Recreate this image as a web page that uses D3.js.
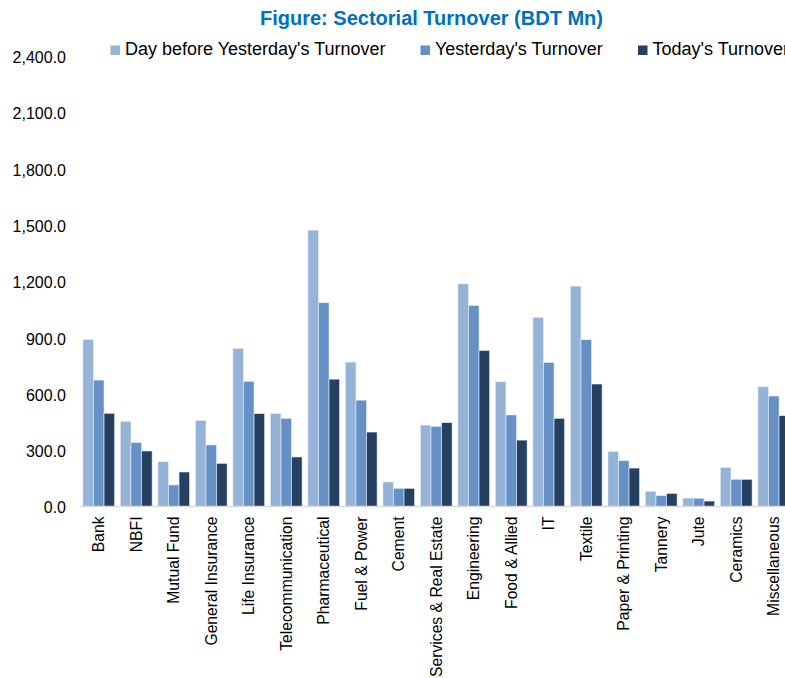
<!DOCTYPE html>
<html>
<head>
<meta charset="utf-8">
<script src="https://cdn.jsdelivr.net/npm/d3@7"></script>
<style>
  body { margin: 0; background: #fff; }
  svg { display: block; font-family: "Liberation Sans", Arial, sans-serif; }
</style>
</head>
<body>
<svg id="chart" width="785" height="678"></svg>
<script>
// sector names along the x axis
var sectors = ["Bank", "NBFI", "Mutual Fund", "General Insurance", "Life Insurance",
  "Telecommunication", "Pharmaceutical", "Fuel & Power", "Cement", "Services & Real Estate",
  "Engineering", "Food & Allied", "IT", "Textile", "Paper & Printing", "Tannery", "Jute",
  "Ceramics", "Miscellaneous"];

// turnover in BDT Mn
var dayBefore = [890, 454, 239, 459, 843, 495, 1473, 770, 131, 434, 1187, 665, 1008, 1175, 294, 81, 45, 207, 638];
var yesterday = [674, 340, 115, 328, 667, 470, 1086, 567, 97, 427, 1072, 488, 768, 889, 244, 58, 44, 145, 589];
var today = [497, 296, 184, 230, 495, 264, 679, 397, 97, 447, 832, 354, 470, 653, 205, 70, 29, 145, 484];

var seriesNames = ["Day before Yesterday's Turnover", "Yesterday's Turnover", "Today's Turnover"];
var yTicks = [0, 300, 600, 900, 1200, 1500, 1800, 2100, 2400];

var colors = ["#95b3d7", "#6591c6", "#254061"];
var seriesValues = [dayBefore, yesterday, today];

var svg = d3.select("#chart");

var x = d3.scaleBand()
  .domain(sectors)
  .range([80, 80 + 19 * 37.5])
  .paddingInner(0.155)
  .paddingOuter(0.0775);

var xs = d3.scaleBand()
  .domain(d3.range(3))
  .range([0, x.bandwidth()]);

var y = d3.scaleLinear()
  .domain([0, 2400])
  .range([506.5, 56.3]);

// title
svg.append("text")
  .attr("x", 431.5)
  .attr("y", 25)
  .attr("text-anchor", "middle")
  .attr("font-size", 20)
  .attr("font-weight", "bold")
  .attr("fill", "#0070c0")
  .text("Figure: Sectorial Turnover (BDT Mn)");

// legend
var legendX = [110.5, 420.5, 638];
var legend = svg.selectAll(".legend")
  .data(seriesNames)
  .enter().append("g")
    .attr("class", "legend")
    .attr("transform", function(d, i) { return "translate(" + legendX[i] + ",45.5)"; });
legend.append("rect")
  .attr("width", 9.5)
  .attr("height", 9.5)
  .attr("fill", function(d, i) { return colors[i]; });
legend.append("text")
  .attr("x", 14.5)
  .attr("y", 9.5)
  .attr("font-size", 18)
  .attr("fill", "#000")
  .text(function(d) { return d; });

// y axis (labels only)
var yAxis = svg.append("g")
  .attr("transform", "translate(66,0)")
  .call(d3.axisLeft(y).tickValues(yTicks).tickFormat(d3.format(",.1f")).tickSize(0).tickPadding(0));
yAxis.select(".domain").remove();
yAxis.selectAll("text")
  .attr("font-size", 16)
  .attr("fill", "#000")
  .attr("dy", "0.4em")
  .attr("font-family", "'Liberation Sans', Arial, sans-serif");

// bars
var groups = svg.selectAll(".grp")
  .data(sectors)
  .enter().append("g")
    .attr("class", "grp")
    .attr("transform", function(d) { return "translate(" + x(d) + ",0)"; });

groups.selectAll("rect")
  .data(function(d, i) { return seriesValues.map(function(s, k) { return { k: k, v: s[i] }; }); })
  .enter().append("rect")
    .attr("x", function(d) { return xs(d.k); })
    .attr("y", function(d) { return y(d.v); })
    .attr("width", xs.bandwidth())
    .attr("height", function(d) { return y(0) - y(d.v); })
    .attr("fill", function(d) { return colors[d.k]; })
    .attr("stroke", "#e6edf6")
    .attr("stroke-width", 0.6);

// x axis
var xAxis = svg.append("g")
  .attr("transform", "translate(0," + y(0) + ")")
  .call(d3.axisBottom(x).tickSize(0).tickPadding(0));
xAxis.select(".domain")
  .attr("stroke", "#d9d9d9")
  .attr("stroke-width", 1.5)
  .attr("d", "M80,0H785");
xAxis.selectAll("text")
  .attr("font-size", 15.7)
  .attr("fill", "#000")
  .attr("font-family", "'Liberation Sans', Arial, sans-serif")
  .attr("text-anchor", "end")
  .attr("transform", "rotate(-90)")
  .attr("x", -10)
  .attr("y", 0)
  .attr("dy", "0.35em");
</script>
</body>
</html>
